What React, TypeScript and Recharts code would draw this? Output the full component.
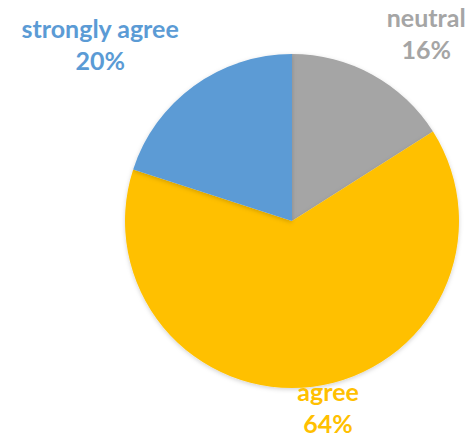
import * as React from "react";
import { PieChart, Pie, Cell } from "recharts";

const categories = ["neutral", "agree", "strongly agree"];
const shares = [16, 64, 20];
const sliceColors = ["#A5A5A5", "#FFC000", "#5B9BD5"];

// label placement: extra distance past the rim and angle nudge (degrees)
const labelPlacement: Record<string, { extra: number; turn: number }> = {
  neutral: { extra: 57, turn: -8 },
  agree: { extra: 31, turn: 3.3 },
  "strongly agree": { extra: 88, turn: 12.8 },
};

const RAD = Math.PI / 180;

function SliceLabel(props: any) {
  const { cx, cy, midAngle, outerRadius, name, percent, index } = props;
  const p = labelPlacement[name] || { extra: 30, turn: 0 };
  const r = outerRadius + p.extra;
  const a = (midAngle + p.turn) * RAD;
  const x = cx + r * Math.cos(a);
  const y = cy - r * Math.sin(a);
  const color = sliceColors[index % sliceColors.length];
  return (
    <text
      x={x}
      y={y}
      textAnchor="middle"
      fill={color}
      fontFamily="Lato, 'Open Sans', sans-serif"
      fontWeight={700}
      fontSize={25}
    >
      <tspan x={x} y={y - 15}>{name}</tspan>
      <tspan x={x} y={y + 17}>{`${Math.round(percent * 100)}%`}</tspan>
    </text>
  );
}

export default function App() {
  const data = categories.map((name, i) => ({ name, value: shares[i] }));

  return (
    <div style={{ position: "absolute", left: 0, top: 0, width: 473, height: 437, background: "#fff" }}>
      <PieChart width={473} height={437} margin={{ top: 0, right: 0, bottom: 0, left: 0 }}>
        <defs>
          <filter id="pieShadow" x="-10%" y="-10%" width="120%" height="120%">
            <feDropShadow dx="0" dy="1.5" stdDeviation="2" floodColor="#000" floodOpacity="0.18" />
          </filter>
        </defs>
        <Pie
          data={data}
          dataKey="value"
          nameKey="name"
          cx={292}
          cy={221}
          outerRadius={167}
          startAngle={90}
          endAngle={-270}
          stroke="none"
          label={SliceLabel}
          labelLine={false}
          isAnimationActive={false}
        >
          {data.map((d, idx) => (
            <Cell key={d.name} fill={sliceColors[idx]} filter="url(#pieShadow)" />
          ))}
        </Pie>
      </PieChart>
    </div>
  );
}
